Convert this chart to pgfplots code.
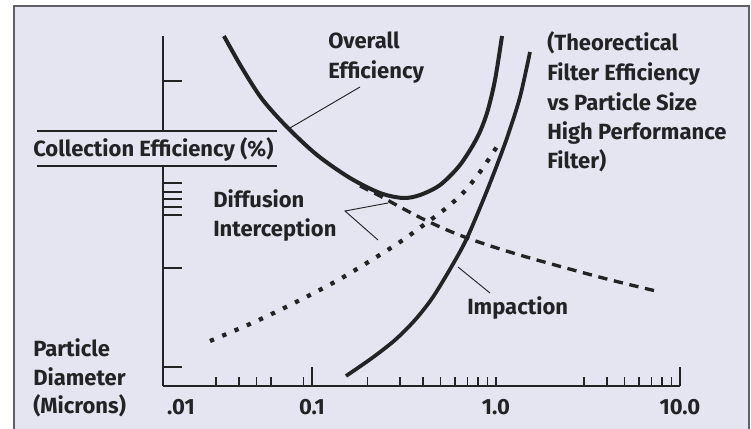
\documentclass[border=0pt]{standalone}
\usepackage{pgfplots}
\pgfplotsset{compat=1.18}
\usepackage{fontspec}
\setmainfont{Fira Sans}
\definecolor{bg}{RGB}{228,229,240}
\definecolor{ink}{RGB}{35,35,38}
\definecolor{framec}{RGB}{95,95,100}
\newcommand\lblfont{\fontsize{16.5}{19}\selectfont\bfseries}
\begin{document}
\begin{tikzpicture}[font=\lblfont]
\begin{scope}[x=0.75pt,y=-0.75pt]
\fill[white] (0,0) rectangle (751,429);
\fill[bg] (14,6) rectangle (749,429);
\draw[framec, line width=1.6pt] (14,429) -- (14,6) -- (749,6) -- (749,429);
\end{scope}
\begin{axis}[
  at={(122.25pt,-289.5pt)}, anchor=south west,
  scale only axis, width=387.75pt, height=262.5pt,
  xmode=log, xmin=0.01549, xmax=10, ymin=0, ymax=350,
  axis lines*=left, axis line style={ink, line width=1.9pt},
  xtick={0.1,10}, xticklabels={0.1,10.0},
  extra x ticks={1}, extra x tick labels={1.0},
  extra x tick style={major tick length=6.5pt},
  minor xtick={0.03,0.04,0.05,0.06,0.09,0.2,0.3,0.4,0.5,0.6,0.7,0.8,0.9,3,4,5,6,7,8,9},
  ytick={19,118,171,179,187,194,203,305}, yticklabels={},
  tick align=inside, major tick length=14pt, minor tick length=6.5pt,
  tick style={ink, line width=1.2pt},
  xticklabel style={font=\lblfont, text=ink, anchor=base, yshift=-21pt},
  clip=false,
]
% Diffusion (dashed)
\addplot[ink, line width=2.5pt, dash pattern=on 7pt off 5pt, smooth] coordinates {
(0.1824,200) (0.2342,190) (0.3008,179) (0.4012,167) (0.5418,156) (0.7225,147) (1.0513,137) (1.670,126) (3.815,108) (7.785,94)};
% Interception (dotted)
\addplot[ink, line width=3.2pt, dash pattern=on 3.2pt off 6.8pt, smooth] coordinates {
(0.0279,45) (0.0460,62) (0.0670,76) (0.0975,91) (0.1420,107) (0.2066,125) (0.3008,144) (0.4112,162) (0.5282,177) (0.6616,193) (0.8185,214) (1.0254,241)};
% Impaction
\addplot[ink, line width=2.8pt, smooth] coordinates {
(0.1530,10) (0.2119,28) (0.2826,46) (0.3629,66) (0.4546,89) (0.5840,122) (0.6958,148) (0.8607,188) (1.0126,221) (1.1620,251) (1.3502,289) (1.5303,334)};
% Overall efficiency
\addplot[ink, line width=3pt, smooth] coordinates {
(0.0332,350) (0.04165,318) (0.0535,287) (0.0731,259) (0.1065,231) (0.1609,208) (0.2342,193) (0.3123,188) (0.3864,191) (0.4963,201) (0.6372,221) (0.7882,248) (0.8935,273) (0.9876,306) (1.0780,350)};
\end{axis}
\begin{scope}[x=0.75pt,y=-0.75pt]
% y-axis label box
\fill[bg] (37,131) rectangle (277,166);
\draw[ink, line width=1.5pt] (37,131) -- (277,131) (37,166) -- (277,166);
\node[anchor=base west, inner sep=0, text=ink] at (33,156) {Collection Efficiency (\%)};
% leader lines
\draw[ink, line width=0.7pt] (360,87) -- (290,128);
\draw[ink, line width=0.7pt] (388,203) -- (345,211) -- (378,240);
\draw[ink, line width=0.7pt] (458,267) -- (490,293);
% texts
\node[anchor=base west, inner sep=0, text=ink] at (328,48) {Overall};
\node[anchor=base west, inner sep=0, text=ink] at (328,78) {Efficiency};
\node[anchor=base west, inner sep=0, text=ink] at (547,50) {(Theorectical};
\node[anchor=base west, inner sep=0, text=ink] at (547,80) {Filter Efficiency};
\node[anchor=base west, inner sep=0, text=ink] at (547,110) {vs Particle Size};
\node[anchor=base west, inner sep=0, text=ink] at (547,139) {High Performance};
\node[anchor=base west, inner sep=0, text=ink] at (547,168) {Filter)};
\node[anchor=base west, inner sep=0, text=ink] at (213,207) {Diffusion};
\node[anchor=base west, inner sep=0, text=ink] at (213,236) {Interception};
\node[anchor=base west, inner sep=0, text=ink] at (467,314) {Impaction};
\node[anchor=base west, inner sep=0, text=ink] at (33,356) {Particle};
\node[anchor=base west, inner sep=0, text=ink] at (33,385) {Diameter};
\node[anchor=base west, inner sep=0, text=ink] at (33,413) {(Microns)};
\node[anchor=base, inner sep=0, text=ink] at (181,414) {.01};
\end{scope}
\pgfresetboundingbox
\path[use as bounding box] (0,0) rectangle (563.25pt,-321.75pt);
\end{tikzpicture}
\end{document}
